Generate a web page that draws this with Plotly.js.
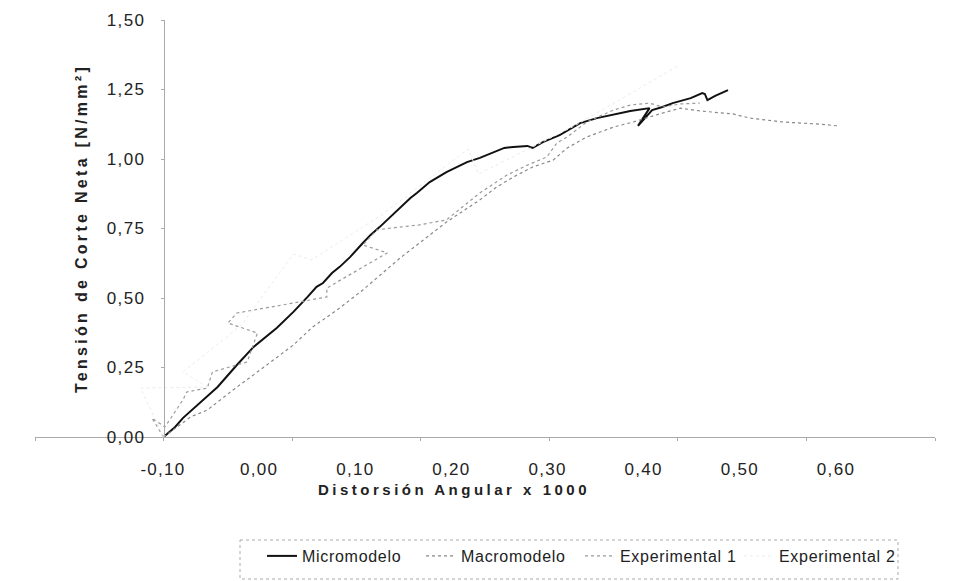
<!DOCTYPE html>
<html>
<head>
<meta charset="utf-8">
<script src="https://cdn.plot.ly/plotly-3.0.1.min.js"></script>
<style>
html,body{margin:0;padding:0;background:#fff;}
#chart{width:958px;height:581px;}
.ytitle{letter-spacing:3.3px;}
.annotation-text{letter-spacing:3.5px;}
.legendtext{letter-spacing:0.7px;}
.xtick text,.x2tick text,.ytick text{letter-spacing:1.3px;}
</style>
</head>
<body>
<div id="chart"></div>
<script>
// ---- tick labels ----
const xTickValues = [-0.1, 0, 0.1, 0.2, 0.3, 0.4, 0.5, 0.6];
const xTickLabels = ["-0,10", "0,00", "0,10", "0,20", "0,30", "0,40", "0,50", "0,60"];
const yTickValues = [0, 0.25, 0.5, 0.75, 1.0, 1.25, 1.5];
const yTickLabels = ["0,00", "0,25", "0,50", "0,75", "1,00", "1,25", "1,50"];

// ---- series names ----
const seriesNames = ["Micromodelo", "Macromodelo", "Experimental 1", "Experimental 2"];

// ---- Micromodelo ----
const microX = [0, 0.009, 0.015, 0.042, 0.057, 0.070, 0.088, 0.101, 0.112, 0.119, 0.124, 0.131, 0.137, 0.145, 0.155, 0.161, 0.168, 0.176, 0.192, 0.197, 0.207, 0.220, 0.236, 0.246, 0.259, 0.265, 0.272, 0.283, 0.287, 0.295, 0.308, 0.324, 0.337, 0.349, 0.363, 0.378, 0.369, 0.380, 0.388, 0.396, 0.410, 0.419, 0.421, 0.423, 0.429, 0.439];
const microY = [0, 0.036, 0.068, 0.180, 0.259, 0.324, 0.392, 0.450, 0.504, 0.540, 0.554, 0.590, 0.612, 0.647, 0.698, 0.727, 0.755, 0.791, 0.860, 0.878, 0.917, 0.953, 0.989, 1.004, 1.029, 1.040, 1.043, 1.047, 1.040, 1.061, 1.086, 1.129, 1.147, 1.158, 1.173, 1.183, 1.119, 1.176, 1.187, 1.201, 1.219, 1.237, 1.234, 1.212, 1.227, 1.248];

// ---- Macromodelo ----
const macroX = [0, 0.021, 0.034, 0.054, 0.075, 0.101, 0.116, 0.135, 0.155, 0.184, 0.220, 0.246, 0.259, 0.272, 0.287, 0.303, 0.314, 0.329, 0.350, 0.365, 0.388, 0.402, 0.417, 0.443, 0.456, 0.482, 0.508, 0.525];
const macroY = [0, 0.072, 0.097, 0.169, 0.241, 0.331, 0.396, 0.457, 0.529, 0.644, 0.773, 0.853, 0.899, 0.935, 0.971, 0.996, 1.040, 1.079, 1.115, 1.133, 1.165, 1.183, 1.173, 1.162, 1.147, 1.133, 1.126, 1.119];

// ---- Experimental 1 ----
const exp1X = [0, -0.009, 0.001, 0.007, 0.015, 0.018, 0.034, 0.036, 0.038, 0.065, 0.070, 0.073, 0.050, 0.057, 0.106, 0.127, 0.127, 0.174, 0.155, 0.166, 0.178, 0.199, 0.220, 0.236, 0.246, 0.267, 0.283, 0.298, 0.306, 0.314, 0.329, 0.350, 0.363, 0.378, 0.388, 0.402, 0.417];
const exp1Y = [0, 0.068, 0.036, 0.079, 0.133, 0.162, 0.176, 0.205, 0.234, 0.270, 0.338, 0.374, 0.410, 0.446, 0.486, 0.504, 0.536, 0.662, 0.691, 0.745, 0.752, 0.763, 0.781, 0.842, 0.878, 0.942, 0.978, 1.007, 1.058, 1.079, 1.133, 1.176, 1.194, 1.201, 1.187, 1.198, 1.201];

// ---- Experimental 2 (very faint in the original) ----
const exp2X = [0, -0.018, 0.034, 0.015, 0.060, 0.101, 0.115, 0.170, 0.237, 0.245, 0.320, 0.400];
const exp2Y = [0, 0.176, 0.180, 0.234, 0.400, 0.658, 0.637, 0.800, 1.036, 0.946, 1.120, 1.335];

const traces = [
  {x: microX, y: microY, name: seriesNames[0], type: 'scatter', mode: 'lines',
   line: {color: '#111', width: 2}},
  {x: macroX, y: macroY, name: seriesNames[1], type: 'scatter', mode: 'lines',
   line: {color: '#888', width: 1.2, dash: 'dot'}},
  {x: exp1X, y: exp1Y, name: seriesNames[2], type: 'scatter', mode: 'lines',
   line: {color: '#9a9a9a', width: 1.2, dash: 'dot'}},
  {x: exp2X, y: exp2Y, name: seriesNames[3], type: 'scatter', mode: 'lines',
   line: {color: '#ececec', width: 1, dash: 'dot'}},
  // empty helper trace so the label axis (xaxis2) gets drawn
  {x: [], y: [], xaxis: 'x2', yaxis: 'y', type: 'scatter', mode: 'lines',
   showlegend: false, hoverinfo: 'skip'}
];

// plot area: x from 35px to 935px, y from 20px to 437px
const L = 35, R = 935, T = 20, B = 437, W = 958, H = 581;
const pw = R - L, ph = B - T;
const px = v => (v - L) / pw;
const py = v => (B - v) / ph;

const layout = {
  width: W, height: H,
  margin: {l: L, r: W - R, t: T, b: H - B, autoexpand: false},
  paper_bgcolor: '#fff',
  plot_bgcolor: 'rgba(0,0,0,0)',
  font: {family: 'Liberation Sans, Arial, sans-serif', size: 16, color: '#222'},
  separators: ',.',
  showlegend: true,
  xaxis: {
    range: [-0.1, 0.6], tick0: 0, dtick: 0.1,
    showline: true, linecolor: '#aaa', linewidth: 1,
    ticks: 'outside', ticklen: 3, tickcolor: '#aaa',
    showticklabels: false, showgrid: false, zeroline: false, fixedrange: true
  },
  xaxis2: {
    anchor: 'y',
    domain: [px(163), px(836)],
    range: [-0.1, 0.6],
    tickmode: 'array', tickvals: xTickValues, ticktext: xTickLabels,
    ticks: '', ticklabelstandoff: 20,
    tickfont: {size: 17, color: '#222'},
    showline: false, showgrid: false, zeroline: false, fixedrange: true
  },
  yaxis: {
    range: [0, 1.5], anchor: 'free', position: 1 / 7,
    tickmode: 'array', tickvals: yTickValues, ticktext: yTickLabels,
    tickfont: {size: 17, color: '#222'},
    showline: true, linecolor: '#aaa', linewidth: 1,
    ticks: 'outside', ticklen: 3, tickcolor: '#aaa', ticklabelstandoff: 12,
    showgrid: false, zeroline: false, fixedrange: true,
    title: {text: 'Tensión de Corte Neta [N/mm²]', font: {size: 16, weight: 'bold', color: '#222'}, standoff: 14}
  },
  legend: {
    orientation: 'h',
    xref: 'container', yref: 'container',
    x: 262 / W, y: 1 - 539 / H,
    xanchor: 'left', yanchor: 'top',
    borderwidth: 0,
    entrywidth: 114,
    font: {size: 16, color: '#222'},
    bgcolor: 'rgba(0,0,0,0)'
  },
  shapes: [{
    type: 'rect', xref: 'paper', yref: 'paper',
    x0: px(240), x1: px(898), y0: py(540), y1: py(579),
    line: {color: '#aaa', width: 1, dash: 'dot'}, fillcolor: 'rgba(0,0,0,0)'
  }],
  annotations: [{
    text: 'Distorsión Angular x 1000',
    xref: 'paper', yref: 'paper',
    x: px(454), y: py(489),
    xanchor: 'center', yanchor: 'middle',
    showarrow: false,
    font: {size: 15, weight: 'bold', color: '#222'}
  }]
};

Plotly.newPlot('chart', traces, layout, {displayModeBar: false, staticPlot: true});
</script>
</body>
</html>
